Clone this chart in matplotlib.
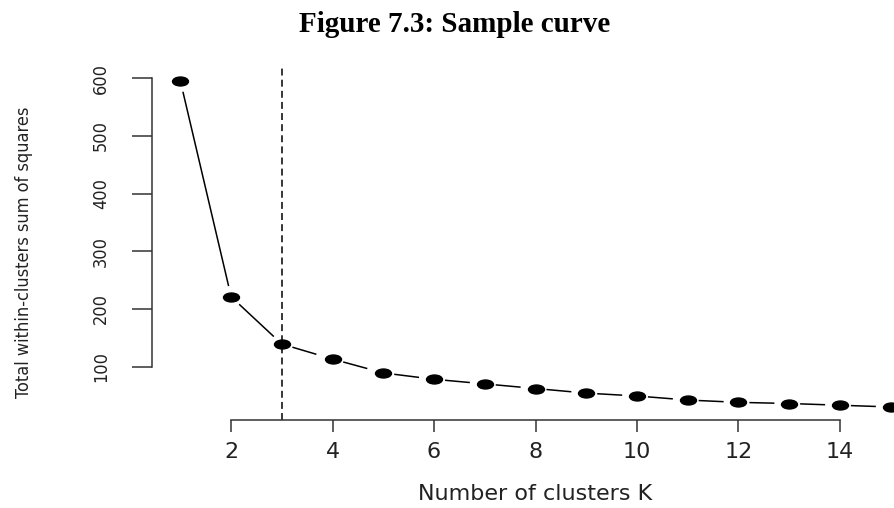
import numpy as np
import matplotlib
matplotlib.use('Agg')
import matplotlib.pyplot as plt
from matplotlib.path import Path

plt.rcParams['lines.scale_dashes'] = False

k = list(range(1, 16))
wss = [595, 221, 139, 113, 89, 78, 70, 62, 54, 49, 42, 38, 36, 33, 30]
best_k = 3
x_ticks = [2, 4, 6, 8, 10, 12, 14]
y_ticks = [100, 200, 300, 400, 500, 600]

fig = plt.figure(figsize=(8.94, 5.08), dpi=100)
# plot region runs past the right edge like the cropped original
ax = fig.add_axes([152/894, 88/508, (919-152)/894, 352/508])
ax.set_xlim(0.44, 15.56)
ax.set_ylim(7.4, 617.6)

for s in ['top', 'right']:
    ax.spines[s].set_visible(False)
ax.spines['left'].set_bounds(100, 600)
ax.spines['bottom'].set_bounds(2, 14)
for s in ['left', 'bottom']:
    ax.spines[s].set_linewidth(1.1)
    ax.spines[s].set_color('#333333')

ax.set_xticks(x_ticks)
ax.set_yticks(y_ticks)
ax.tick_params(axis='x', length=8.6, width=1.1, pad=7, labelsize=16, color='#333333',
               labelcolor='#222222')
ax.tick_params(axis='y', length=14.4, width=1.1, pad=16, labelsize=13, color='#333333',
               labelcolor='#222222', labelrotation=90)
for lab in ax.get_yticklabels():
    lab.set_fontstretch('condensed')
    lab.set_va('center')

# elbow line
ax.axvline(best_k, color='black', lw=1.1, ls=(0, (5, 3)))

# type="b": segments with gaps round the points
gap = 11
pts = ax.transData.transform(np.column_stack([k, wss]))
inv = ax.transData.inverted()
for i in range(len(k) - 1):
    a, b = pts[i], pts[i + 1]
    d = b - a
    u = d / np.hypot(*d)
    seg = inv.transform([a + u*gap, b - u*gap])
    ls = '-' if i < 2 else (0, (18, 20))
    ax.plot(seg[:, 0], seg[:, 1], color='black', lw=1.1, ls=ls, solid_capstyle='butt',
            dash_capstyle='butt')

circ = Path.unit_circle()
ell = Path(circ.vertices * [1, 0.56], circ.codes)
ax.plot(k, wss, ls='none', marker=ell, ms=11.5, color='black', clip_on=False)

fig.text(455/894, 1-25/508, "Figure 7.3: Sample curve", ha='center', va='center',
         fontsize=21, fontweight='bold', family='Liberation Serif')
fig.text(535/894, 1-494/508, "Number of clusters K", ha='center', va='center',
         fontsize=16, color='#222222')
fig.text(24/894, 1-252/508, "Total within-clusters sum of squares", ha='center', va='center',
         rotation=90, fontsize=13, fontstretch='condensed', color='#222222')

fig.savefig('out.png', dpi=100)
